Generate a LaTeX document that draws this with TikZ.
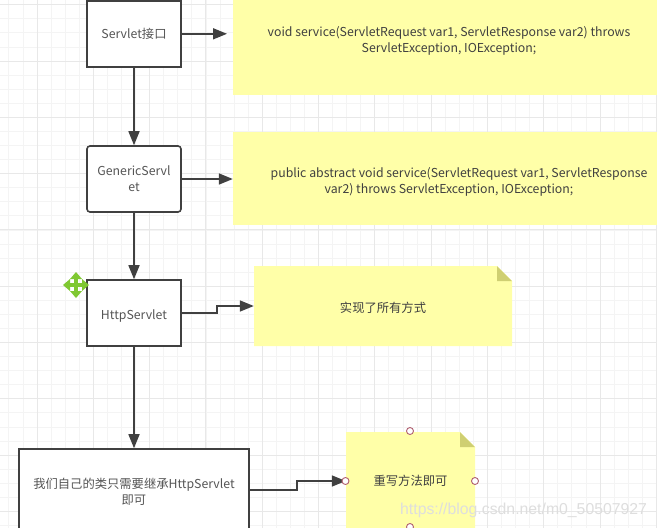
\documentclass[tikz,border=0pt]{standalone}
\usepackage{fontspec}
\setmainfont{Noto Sans CJK SC}
\newfontfamily\wmfont{Liberation Sans}
\usetikzlibrary{arrows.meta,calc}
\definecolor{notefill}{HTML}{FFFFA8}
\definecolor{foldfill}{HTML}{CFCF72}
\definecolor{edgecol}{HTML}{404040}
\definecolor{txtcol}{HTML}{555555}
\definecolor{minorgrid}{HTML}{F4F4F4}
\definecolor{majorgrid}{HTML}{E8E8E8}
\definecolor{portcol}{HTML}{B06070}
\definecolor{movegreen}{HTML}{7FC832}
\tikzset{
  x=1pt,y=-1pt,
  flowbox/.style={draw=edgecol,line width=1.6pt,fill=white,inner sep=0pt,text=txtcol,align=center,font=\fontsize{12.3}{16}\selectfont},
  notebox/.style={fill=notefill,inner sep=0pt,text=edgecol,align=center,font=\fontsize{12.3}{16}\selectfont},
  flowarrow/.style={draw=edgecol,line width=1.6pt,-{Triangle[length=14pt,width=11pt]}},
  port/.style={circle,draw=portcol,line width=0.9pt,fill=white,minimum size=7pt,inner sep=0pt},
}
\begin{document}
\begin{tikzpicture}
\useasboundingbox (0,0) rectangle (657,528);
\clip (0,0) rectangle (657,528);
\fill[white] (0,0) rectangle (657,528);
% grid
\foreach \k in {-2,...,45}{
  \pgfmathsetmacro{\gx}{37+14.075*\k}
  \draw[minorgrid,line width=0.8pt] (\gx,0) -- (\gx,528);
}
\foreach \k in {-4,...,34}{
  \pgfmathsetmacro{\gy}{61+14.075*\k}
  \draw[minorgrid,line width=0.8pt] (0,\gy) -- (657,\gy);
}
\foreach \k in {0,...,11}{
  \pgfmathsetmacro{\gx}{37+56.3*\k}
  \draw[majorgrid,line width=0.9pt] (\gx,0) -- (\gx,528);
}
\foreach \k in {-1,...,8}{
  \pgfmathsetmacro{\gy}{61+56.3*\k}
  \draw[majorgrid,line width=0.9pt] (0,\gy) -- (657,\gy);
}
% notes
\node[notebox,minimum width=432pt,minimum height=95pt] (n1) at (449,47.5) {void service(ServletRequest var1, ServletResponse var2) throws\\ServletException, IOException;\\[1pt]\mbox{}};
\node[notebox,minimum width=432pt,minimum height=93pt] (n2) at (449,178.5) {\rule{0pt}{17pt}\hspace{20pt}public abstract void service(ServletRequest var1, ServletResponse\\var2) throws ServletException, IOException;};
\fill[notefill] (254,266) -- (497,266) -- (512,281) -- (512,346) -- (254,346) -- cycle;
\node[inner sep=0pt,minimum width=258pt,minimum height=80pt,text=edgecol,align=center,font=\fontsize{12.3}{16}\selectfont] (n3) at (383,306) {\rule{0pt}{15pt}实现了所有方式};
\fill[foldfill] (497,266) -- (512,281) -- (497,281) -- cycle;
\fill[notefill] (346,432) -- (460,432) -- (475,447) -- (475,528) -- (346,528) -- cycle;
\node[inner sep=0pt,minimum width=129pt,minimum height=98pt,text=edgecol,font=\fontsize{12.3}{16}\selectfont] (n4) at (410.5,481) {重写方法即可};
\fill[foldfill] (460,432) -- (475,447) -- (460,447) -- cycle;
% boxes
\node[flowbox,minimum width=94pt,minimum height=66pt] (b1) at (134,33.8) {Servlet接口};
\node[flowbox,rounded corners=3pt,minimum width=94pt,minimum height=66pt] (b2) at (134,179) {GenericServl\\et};
\node[flowbox,minimum width=94pt,minimum height=66pt] (b3) at (134,313) {\rule{0pt}{15pt}HttpServlet};
\node[flowbox,minimum width=230pt,minimum height=98pt] (b4) at (134,498) {我们自己的类只需要继承HttpServlet\\即可\\[-2pt]\mbox{}};
% connectors
\draw[flowarrow] (b1) -- (b2);
\draw[flowarrow] (b2) -- (b3);
\draw[flowarrow] (b3) -- (b4);
\coordinate (e1) at (227,33.8);
\draw[flowarrow] (b1.east) -- (e1);
\draw[flowarrow] (b2.east) -- (b2.east -| n2.west);
\coordinate (m3) at (217,0);
\draw[flowarrow] (b3.east) -- (b3.east -| m3) -- (n3.west -| m3) -- (n3.west);
\coordinate (m4) at (297,0);
\draw[flowarrow] (b4.east |- 0,490) -- (m4 |- 0,490) -- (n4.west -| m4) -- (n4.west);
% ports
\node[port] (p1) at (410,431) {};
\node[port] (p2) at (345.5,481) {};
\node[port] (p3) at (475,481) {};
\node[port] (p4) at (410,527) {};
% move icon
\draw[movegreen,line width=3.4pt] (66,285) -- (86,285) (76,275) -- (76,295);
\fill[movegreen] (76,272) -- (82,279) -- (70,279) -- cycle
  (76,298) -- (82,291) -- (70,291) -- cycle
  (63,285) -- (70,279) -- (70,291) -- cycle
  (89,285) -- (82,279) -- (82,291) -- cycle;
% watermark
\node[anchor=west,inner sep=0pt,text=black!13,font=\wmfont\fontsize{15.8}{18}\selectfont] (wm) at (400,510) {https://blog.csdn.net/m0\_50507927};
\end{tikzpicture}
\end{document}
